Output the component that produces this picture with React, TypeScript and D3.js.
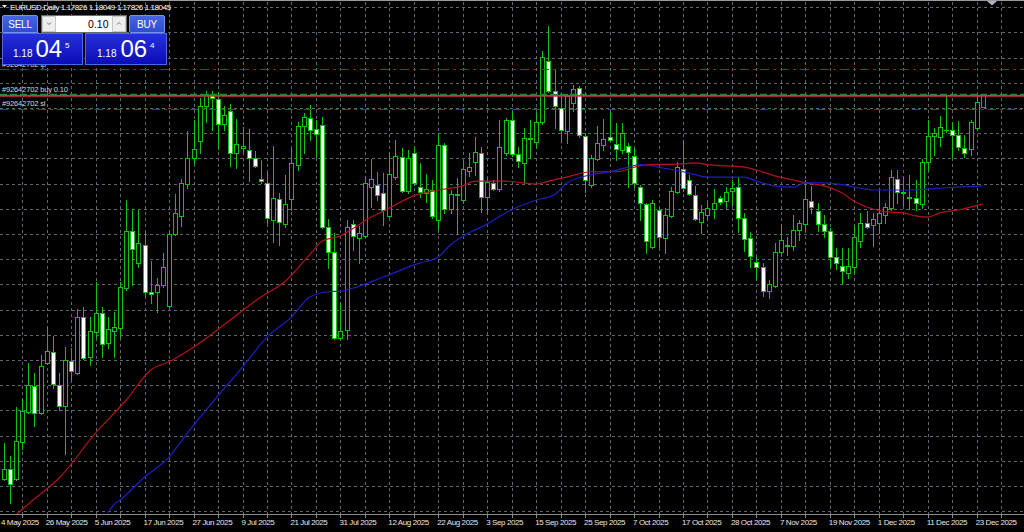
import React from "react";
import * as d3 from "d3";

// bar 0 = 15 May 2025 ... bar 160 = 24 Dec 2025 (EURUSD, Daily)
const OPEN = [
  1.1150, 1.1167, 1.1150, 1.1213, 1.1264, 1.1308, 1.1262, 1.1347, 1.1366, 1.1310,
  1.1274, 1.1350, 1.1330, 1.1425, 1.1357, 1.1400, 1.1432, 1.1381, 1.1401, 1.1406,
  1.1474, 1.1571, 1.1517, 1.1548, 1.1468, 1.1468, 1.1480, 1.1444, 1.1566, 1.1597,
  1.1651, 1.1695, 1.1724, 1.1784, 1.1803, 1.1796, 1.1753, 1.1775, 1.1704, 1.1712,
  1.1709, 1.1695, 1.1659, 1.1653, 1.1590, 1.1626, 1.1583, 1.1626, 1.1684, 1.1750,
  1.1763, 1.1745, 1.1752, 1.1578, 1.1536, 1.1389, 1.1403, 1.1583, 1.1559, 1.1563,
  1.1646, 1.1650, 1.1636, 1.1597, 1.1663, 1.1697, 1.1639, 1.1704, 1.1646, 1.1636,
  1.1641, 1.1590, 1.1718, 1.1609, 1.1634, 1.1624, 1.1673, 1.1689, 1.1704, 1.1629,
  1.1653, 1.1643, 1.1704, 1.1760, 1.1702, 1.1687, 1.1728, 1.1723, 1.1757, 1.1860,
  1.1809, 1.1780, 1.1741, 1.1789, 1.1814, 1.1733, 1.1650, 1.1694, 1.1718, 1.1731,
  1.1719, 1.1709, 1.1716, 1.1699, 1.1646, 1.1617, 1.1544, 1.1607, 1.1559, 1.1597,
  1.1638, 1.1677, 1.1658, 1.1633, 1.1587, 1.1599, 1.1609, 1.1627, 1.1622, 1.1639,
  1.1646, 1.1593, 1.1559, 1.1519, 1.1510, 1.1469, 1.1478, 1.1536, 1.1546, 1.1546,
  1.1573, 1.1583, 1.1622, 1.1605, 1.1583, 1.1571, 1.1527, 1.1512, 1.1500, 1.1510,
  1.1554, 1.1585, 1.1582, 1.1585, 1.1599, 1.1610, 1.1660, 1.1638, 1.1627, 1.1627,
  1.1617, 1.1689, 1.1733, 1.1731, 1.1743, 1.1743, 1.1735, 1.1712, 1.1711, 1.1746,
  1.17826,
];
const HIGH = [
  1.1211, 1.1188, 1.1272, 1.1286, 1.1347, 1.1330, 1.1361, 1.1408, 1.1393, 1.1330,
  1.1374, 1.1372, 1.1439, 1.1442, 1.1425, 1.1485, 1.1442, 1.1425, 1.1434, 1.1485,
  1.1624, 1.1609, 1.1607, 1.1570, 1.1520, 1.1491, 1.1534, 1.1570, 1.1634, 1.1660,
  1.1741, 1.1760, 1.1797, 1.1809, 1.1809, 1.1808, 1.1784, 1.1787, 1.1762, 1.1748,
  1.1745, 1.1707, 1.1692, 1.1672, 1.1716, 1.1636, 1.1667, 1.1712, 1.1757, 1.1772,
  1.1786, 1.1760, 1.1765, 1.1592, 1.1568, 1.1449, 1.1590, 1.1590, 1.1580, 1.1663,
  1.1694, 1.1672, 1.1670, 1.1704, 1.1726, 1.1712, 1.1709, 1.1714, 1.1687, 1.1668,
  1.1658, 1.1738, 1.1721, 1.1641, 1.1661, 1.1692, 1.1704, 1.1731, 1.1714, 1.1661,
  1.1658, 1.1760, 1.1763, 1.1775, 1.1714, 1.1746, 1.1760, 1.1772, 1.1877, 1.1920,
  1.1845, 1.1803, 1.1804, 1.1820, 1.1818, 1.1738, 1.1701, 1.1750, 1.1762, 1.1774,
  1.1755, 1.1755, 1.1721, 1.1712, 1.1650, 1.1619, 1.1624, 1.1610, 1.1610, 1.1646,
  1.1689, 1.1726, 1.1667, 1.1648, 1.1616, 1.1619, 1.1643, 1.1631, 1.1646, 1.1658,
  1.1663, 1.1602, 1.1570, 1.1527, 1.1517, 1.1488, 1.1551, 1.1583, 1.1561, 1.1599,
  1.1590, 1.1658, 1.1648, 1.1619, 1.1599, 1.1576, 1.1542, 1.1542, 1.1542, 1.1580,
  1.1602, 1.1605, 1.1602, 1.1641, 1.1619, 1.1675, 1.1675, 1.1663, 1.1667, 1.1658,
  1.1694, 1.1760, 1.1746, 1.1767, 1.1801, 1.1757, 1.1758, 1.1735, 1.1760, 1.1803,
  1.18049,
];
const LOW = [
  1.1148, 1.1109, 1.1148, 1.1201, 1.1262, 1.1240, 1.1261, 1.1346, 1.1304, 1.1267,
  1.1192, 1.1318, 1.1328, 1.1354, 1.1344, 1.1391, 1.1357, 1.1372, 1.1357, 1.1391,
  1.1471, 1.1480, 1.1510, 1.1461, 1.1449, 1.1434, 1.1476, 1.1442, 1.1565, 1.1580,
  1.1644, 1.1687, 1.1704, 1.1757, 1.1743, 1.1711, 1.1743, 1.1682, 1.1678, 1.1706,
  1.1656, 1.1680, 1.1653, 1.1585, 1.1553, 1.1548, 1.1578, 1.1607, 1.1675, 1.1704,
  1.1726, 1.1697, 1.1577, 1.1508, 1.1388, 1.1388, 1.1388, 1.1539, 1.1517, 1.1561,
  1.1612, 1.1624, 1.1582, 1.1595, 1.1660, 1.1638, 1.1636, 1.1650, 1.1629, 1.1621,
  1.1593, 1.1575, 1.1602, 1.1602, 1.1566, 1.1619, 1.1665, 1.1667, 1.1604, 1.1602,
  1.1641, 1.1639, 1.1701, 1.1699, 1.1680, 1.1653, 1.1695, 1.1712, 1.1753, 1.1808,
  1.1746, 1.1723, 1.1721, 1.1775, 1.1731, 1.1638, 1.1646, 1.1692, 1.1709, 1.1724,
  1.1692, 1.1704, 1.1646, 1.1646, 1.1590, 1.1534, 1.1542, 1.1544, 1.1534, 1.1595,
  1.1636, 1.1639, 1.1633, 1.1590, 1.1568, 1.1592, 1.1593, 1.1617, 1.1610, 1.1616,
  1.1570, 1.1537, 1.1510, 1.1488, 1.1461, 1.1457, 1.1476, 1.1531, 1.1531, 1.1539,
  1.1556, 1.1570, 1.1602, 1.1571, 1.1561, 1.1508, 1.1507, 1.1481, 1.1491, 1.1500,
  1.1544, 1.1576, 1.1546, 1.1568, 1.1585, 1.1607, 1.1619, 1.1616, 1.1609, 1.1607,
  1.1610, 1.1675, 1.1701, 1.1716, 1.1740, 1.1697, 1.1709, 1.1697, 1.1701, 1.1745,
  1.17826,
];
const CLOSE = [
  1.1167, 1.1141, 1.1214, 1.1265, 1.1310, 1.1262, 1.1342, 1.1367, 1.1311, 1.1274,
  1.1352, 1.1333, 1.1425, 1.1355, 1.1401, 1.1432, 1.1379, 1.1405, 1.1408, 1.1476,
  1.1571, 1.1541, 1.1551, 1.1468, 1.1464, 1.1480, 1.1510, 1.1566, 1.1602, 1.1653,
  1.1695, 1.1711, 1.1784, 1.1804, 1.1797, 1.1753, 1.1769, 1.1704, 1.1719, 1.1716,
  1.1695, 1.1682, 1.1657, 1.1593, 1.1627, 1.1587, 1.1617, 1.1687, 1.1750, 1.1765,
  1.1743, 1.1736, 1.1578, 1.1536, 1.1389, 1.1401, 1.1578, 1.1563, 1.1568, 1.1653,
  1.1660, 1.1633, 1.1607, 1.1668, 1.1699, 1.1639, 1.1695, 1.1653, 1.1638, 1.1643,
  1.1597, 1.1718, 1.1609, 1.1634, 1.1633, 1.1677, 1.1680, 1.1706, 1.1629, 1.1655,
  1.1643, 1.1714, 1.1760, 1.1702, 1.1690, 1.1729, 1.1730, 1.1757, 1.1867, 1.1809,
  1.1784, 1.1743, 1.1801, 1.1813, 1.1735, 1.1658, 1.1695, 1.1721, 1.1728, 1.1726,
  1.1711, 1.1738, 1.1706, 1.1653, 1.1619, 1.1554, 1.1619, 1.1561, 1.1599, 1.1639,
  1.1680, 1.1644, 1.1634, 1.1592, 1.1604, 1.1610, 1.1619, 1.1621, 1.1638, 1.1644,
  1.1593, 1.1558, 1.1529, 1.1510, 1.1469, 1.1481, 1.1536, 1.1556, 1.1548, 1.1573,
  1.1585, 1.1626, 1.1612, 1.1583, 1.1571, 1.1527, 1.1517, 1.1503, 1.1512, 1.1561,
  1.1585, 1.1578, 1.1592, 1.1602, 1.1612, 1.1663, 1.1638, 1.1636, 1.1629, 1.1619,
  1.1689, 1.1733, 1.1738, 1.1748, 1.1743, 1.1735, 1.1714, 1.1704, 1.1757, 1.1791,
  1.18045,
];

// moving averages, read at selected bars
const MA_RED_BARS = [2, 5, 9, 15, 20, 24, 27, 32, 37, 42, 46, 50, 52, 55, 57, 60, 62, 67, 71, 75, 77, 79, 82, 85, 87, 89, 92, 96, 100, 105, 110, 113, 115, 121, 123, 126, 129, 131, 134, 137, 139, 141, 144, 147, 149, 151, 153, 156, 158, 160];
const MA_RED = [1.1089, 1.1116, 1.1151, 1.1228, 1.1284, 1.1335, 1.1349, 1.1381, 1.1420, 1.1459, 1.1486, 1.1531, 1.1554, 1.1563, 1.1575, 1.1595, 1.1605, 1.1631, 1.1641, 1.1648, 1.1656, 1.1656, 1.1656, 1.1653, 1.1651, 1.1656, 1.1663, 1.1672, 1.1672, 1.1684, 1.1685, 1.1687, 1.1684, 1.1680, 1.1675, 1.1665, 1.1658, 1.1653, 1.1648, 1.1636, 1.1622, 1.1612, 1.1604, 1.1602, 1.1597, 1.1595, 1.1602, 1.1607, 1.1612, 1.1617];
const MA_BLUE_BARS = [17, 18, 19, 23, 27, 30, 34, 39, 43, 47, 50, 53, 55, 57, 62, 68, 71, 73, 76, 79, 82, 87, 90, 92, 96, 99, 102, 104, 108, 111, 113, 115, 121, 123, 126, 129, 131, 134, 137, 140, 142, 148, 153, 156, 160];
const MA_BLUE = [1.1092, 1.1106, 1.1114, 1.1153, 1.1187, 1.1228, 1.1279, 1.1340, 1.1391, 1.1425, 1.1459, 1.1468, 1.1469, 1.1474, 1.1493, 1.1517, 1.1527, 1.1548, 1.1568, 1.1583, 1.1602, 1.1624, 1.1633, 1.1653, 1.1667, 1.1672, 1.1680, 1.1684, 1.1678, 1.1672, 1.1667, 1.1663, 1.1663, 1.1656, 1.1648, 1.1646, 1.1653, 1.1653, 1.1650, 1.1644, 1.1641, 1.1641, 1.1644, 1.1646, 1.1648];

// price-scale grid levels (scale itself is hidden off the right edge)
const GRID_PRICES = [1.19516, 1.19088, 1.18659, 1.18231, 1.17802, 1.17374, 1.16946, 1.16517, 1.16089, 1.15660, 1.15232, 1.14804, 1.14375, 1.13947, 1.13518, 1.13090, 1.12662, 1.12233, 1.11805, 1.11376, 1.10948];

// first label sits on the left edge, as the terminal shows it
const DATE_LABEL_BARS = [-1, 7, 15, 23, 31, 39, 47, 55, 63, 71, 79, 87, 95, 103, 111, 119, 127, 135, 143, 151, 159];
const DATE_LABELS = ["4 May 2025", "26 May 2025", "5 Jun 2025", "17 Jun 2025", "27 Jun 2025", "9 Jul 2025", "21 Jul 2025", "31 Jul 2025", "12 Aug 2025", "22 Aug 2025", "3 Sep 2025", "15 Sep 2025", "25 Sep 2025", "7 Oct 2025", "17 Oct 2025", "28 Oct 2025", "7 Nov 2025", "19 Nov 2025", "1 Dec 2025", "11 Dec 2025", "23 Dec 2025"];

const TITLE = "EURUSD,Daily  1.17826 1.18049 1.17826 1.18045";
const TICKET = "#92642702";
const LEVEL_TP = 1.1846;
const LEVEL_OPEN = 1.1805;
const LEVEL_HLINE = 1.1801;
const LEVEL_SL = 1.1779;
const LOT = "0.10";
const BID = ["1.18", "04", "5"];
const ASK = ["1.18", "06", "4"];

const GREEN = "#12c012";
const GRID = "#5e6873";
const FONT = "'Liberation Sans', Arial, sans-serif";

export default function App() {
  const W = 1024;
  const H = 532;
  const plotBottom = 514;

  const x = d3.scaleLinear().domain([0, 160]).range([3.9, 982.8]);
  const y = d3.scaleLinear().domain([1.1964, 1.10902]).range([0, plotBottom]);

  const gridBars = d3.range(-1, 166, 4);

  const redPath = d3
    .line<number>()
    .x((_, i) => x(MA_RED_BARS[i]))
    .y((d) => y(d))
    .curve(d3.curveMonotoneX)(MA_RED);
  const bluePath = d3
    .line<number>()
    .x((_, i) => x(MA_BLUE_BARS[i]))
    .y((d) => y(d))
    .curve(d3.curveMonotoneX)(MA_BLUE);

  const lvl = (p: number) => Math.round(y(p)) + 0.5;

  return (
    <div style={{ position: "absolute", left: 0, top: 0, width: W, height: H, background: "#000" }}>
      <svg width={W} height={H} style={{ display: "block" }} fontFamily={FONT}>
        <defs>
          <clipPath id="plot">
            <rect x={0} y={2} width={W} height={plotBottom - 2} />
          </clipPath>
          <linearGradient id="hdr" x1="0" y1="0" x2="0" y2="1">
            <stop offset="0" stopColor="#4766e0" />
            <stop offset="1" stopColor="#2f4bd0" />
          </linearGradient>
          <linearGradient id="big" x1="0" y1="0" x2="0" y2="1">
            <stop offset="0" stopColor="#2530dc" />
            <stop offset="1" stopColor="#0c0cb4" />
          </linearGradient>
        </defs>

        <rect width={W} height={H} fill="#000" />

        {/* grid */}
        <g stroke={GRID} strokeWidth={1} strokeDasharray="3,3">
          {GRID_PRICES.map((p) => (
            <line key={"h" + p} x1={0} x2={W} y1={lvl(p)} y2={lvl(p)} />
          ))}
          {gridBars.map((b) => (
            <line key={"v" + b} x1={Math.round(x(b)) + 0.5} x2={Math.round(x(b)) + 0.5} y1={2} y2={plotBottom} />
          ))}
        </g>

        <g clipPath="url(#plot)">
          {/* candles: white body = bearish, black body = bullish */}
          {OPEN.map((o, i) => {
            const c = CLOSE[i];
            const cx = Math.round(x(i));
            const yH = Math.round(y(HIGH[i]));
            const yL = Math.round(y(LOW[i]));
            const yT = Math.round(y(Math.max(o, c)));
            const yB = Math.round(y(Math.min(o, c)));
            const bear = c < o;
            return (
              <g key={i}>
                <line x1={cx + 0.5} x2={cx + 0.5} y1={yH} y2={yL + 1} stroke={GREEN} />
                {yB - yT < 1 ? (
                  <line x1={cx - 2} x2={cx + 3} y1={yT + 0.5} y2={yT + 0.5} stroke={GREEN} />
                ) : (
                  <rect
                    x={cx - 1.5}
                    y={yT + 0.5}
                    width={4}
                    height={yB - yT}
                    fill={bear ? "#ffffff" : "#000000"}
                    stroke={GREEN}
                  />
                )}
              </g>
            );
          })}

          {/* moving averages */}
          <path d={redPath ?? ""} fill="none" stroke="#b5121c" strokeWidth={1.2} />
          <path d={bluePath ?? ""} fill="none" stroke="#1e1ec4" strokeWidth={1.2} />
        </g>

        {/* order lines */}
        <line x1={0} x2={W} y1={lvl(LEVEL_TP)} y2={lvl(LEVEL_TP)} stroke="#b3141e" strokeDasharray="9,4,3,4" />
        <line x1={0} x2={W} y1={lvl(LEVEL_OPEN)} y2={lvl(LEVEL_OPEN)} stroke="#1e8a2c" strokeWidth={1.3} strokeDasharray="7,3" />
        <line x1={0} x2={W} y1={y(LEVEL_HLINE)} y2={y(LEVEL_HLINE)} stroke="#cf3545" strokeWidth={1.6} />
        <line x1={0} x2={W} y1={lvl(LEVEL_SL)} y2={lvl(LEVEL_SL)} stroke="#b3141e" strokeDasharray="8,4,3,4" />
        <g fill="#d8d8d8" fontSize={7.5} letterSpacing={-0.15}>
          <text x={2} y={y(LEVEL_TP) - 2}>{TICKET} tp</text>
          <text x={2} y={y(LEVEL_OPEN) - 2}>{TICKET} buy {LOT}</text>
          <text x={2} y={y(LEVEL_SL) - 2.5}>{TICKET} sl</text>
        </g>

        {/* time axis */}
        <line x1={0} x2={W} y1={plotBottom + 0.5} y2={plotBottom + 0.5} stroke="#8a8a8a" />
        <g stroke="#8a8a8a">
          {gridBars.map((b) => (
            <line key={"t" + b} x1={Math.round(x(b)) + 0.5} x2={Math.round(x(b)) + 0.5} y1={plotBottom} y2={plotBottom + 4} />
          ))}
        </g>
        <g fill="#e6e6e6" fontSize={8} letterSpacing={-0.4}>
          {DATE_LABELS.map((t, k) => (
            <text key={t} x={Math.max(1, x(DATE_LABEL_BARS[k]) - 1)} y={524.5}>
              {t}
            </text>
          ))}
        </g>

        {/* top border + shift marker */}
        <line x1={0} x2={W} y1={0.5} y2={0.5} stroke="#9a9a9a" />
        <polygon points="987,1 997,1 992,5.5" fill="#a9b6c4" />

        {/* title */}
        <polygon points="2,5 7,5 4.5,8" fill="#e8e8e8" />
        <text x={10} y={10} fill="#ffffff" fontSize={8} letterSpacing={-0.4}>
          {TITLE}
        </text>

        {/* one-click trading panel */}
        <rect x={2.5} y={15.5} width={35} height={17} rx={1.5} fill="url(#hdr)" stroke="#7790ee" />
        <text x={20} y={28} textAnchor="middle" fill="#fff" fontSize={10} letterSpacing={-0.2}>SELL</text>

        <rect x={41.5} y={15.5} width={85} height={17} fill="#ffffff" stroke="#6a6a6a" />
        <rect x={42.5} y={16.5} width={13} height={15} fill="#eeeeee" stroke="#c6c6c6" />
        <rect x={112.5} y={16.5} width={13} height={15} fill="#eeeeee" stroke="#c6c6c6" />
        <polyline points="47,22.5 49,24.5 51,22.5" fill="none" stroke="#777" />
        <polyline points="117,24.5 119,22.5 121,24.5" fill="none" stroke="#777" />
        <text x={108.5} y={28} textAnchor="end" fill="#000" fontSize={10.5}>{LOT}</text>

        <rect x={129.5} y={15.5} width={35} height={17} rx={1.5} fill="url(#hdr)" stroke="#7790ee" />
        <text x={147} y={28} textAnchor="middle" fill="#fff" fontSize={10} letterSpacing={-0.2}>BUY</text>

        <rect x={2.5} y={33.5} width={80} height={31} fill="url(#big)" stroke="#4c68ea" />
        <text x={13} y={57} fill="#fff" fontSize={10}>{BID[0]}</text>
        <text x={35.5} y={57} fill="#fff" fontSize={24}>{BID[1]}</text>
        <text x={65} y={47.5} fill="#fff" fontSize={8}>{BID[2]}</text>

        <rect x={85.5} y={33.5} width={81} height={31} fill="url(#big)" stroke="#4c68ea" />
        <text x={97} y={57} fill="#fff" fontSize={10}>{ASK[0]}</text>
        <text x={120.5} y={57} fill="#fff" fontSize={24}>{ASK[1]}</text>
        <text x={150} y={47.5} fill="#fff" fontSize={8}>{ASK[2]}</text>
      </svg>
    </div>
  );
}
